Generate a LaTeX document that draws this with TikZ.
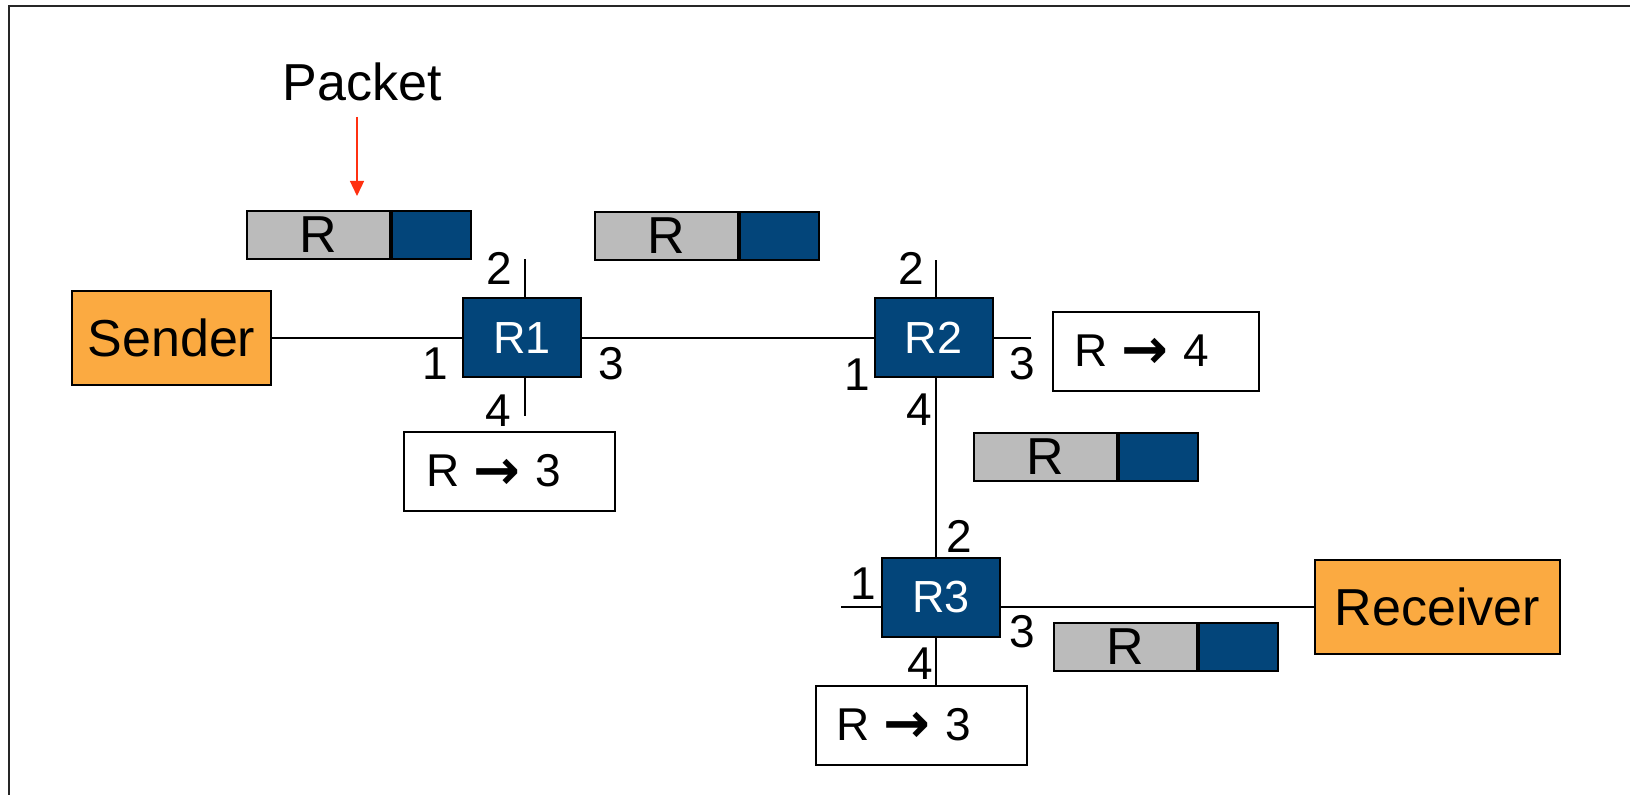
\documentclass[tikz,border=0pt]{standalone}
\usepackage{fontspec}
\setmainfont{Liberation Sans}
\newfontfamily\arrowfont{DejaVu Sans}
\usetikzlibrary{arrows.meta}
\definecolor{routerblue}{HTML}{03457A}
\definecolor{hostorange}{HTML}{FBAA41}
\definecolor{hdrgray}{HTML}{BBBBBB}
\definecolor{ptrred}{HTML}{FF3010}
\tikzset{
  wire/.style={line width=1pt, draw=black},
  host/.style={draw=black, line width=1pt, fill=hostorange, minimum width=99.5pt, minimum height=47pt, inner sep=0pt, font=\fontsize{26}{30}\selectfont},
  router/.style={draw=black, line width=1pt, fill=routerblue, text=white, minimum width=59pt, minimum height=39.5pt, inner sep=0pt, font=\fontsize{22.5}{26}\selectfont},
  rulebox/.style={draw=black, line width=1pt, fill=white, minimum width=105.5pt, minimum height=39.5pt, inner sep=0pt},
  ruletext/.style={anchor=west, inner sep=0pt, font=\fontsize{23}{26}\selectfont},
  hdr/.style={draw=black, line width=1pt, fill=hdrgray, minimum width=71.5pt, minimum height=24pt, inner sep=0pt, font=\fontsize{26}{30}\selectfont},
  payload/.style={draw=black, line width=1pt, fill=routerblue, minimum width=39.5pt, minimum height=24pt, inner sep=0pt, anchor=west},
  portnum/.style={inner sep=0pt, font=\fontsize{23}{26}\selectfont},
}
\newcommand{\pkthdr}{\raisebox{-1.5pt}{R}}
\newcommand{\fwd}[1]{R\hspace{0.3em}\raisebox{-1.2pt}{\fontsize{28}{30}\arrowfont\bfseries →}\hspace{0.32em}#1}
\begin{document}
\begin{tikzpicture}[x=0.5pt, y=-0.5pt]
\useasboundingbox (0,0) rectangle (1630,795);
\clip (0,0) rectangle (1630,795);
\fill[white] (0,0) rectangle (1630,795);
% page frame (only top and left edges fall inside the page)
\draw[line width=1pt, draw=black!85] (9,6) rectangle (1700,900);

% hosts and routers
\node[host] (sender) at (171.5,338) {Sender};
\node[host, minimum width=122.5pt] (receiver) at (1437.5,607) {Receiver};
\node[router] (r1) at (522,338) {R1};
\node[router] (r2) at (933.5,338) {R2};
\node[router] (r3) at (941,597.5) {R3};

% forwarding tables
\node[rulebox] (t1) at (509.5,472) {};
\node[ruletext] at ([xshift=11.5pt]t1.west) {\fwd{3}};
\node[rulebox, minimum width=103pt] (t2) at (1156,351.5) {};
\node[ruletext] at ([xshift=11pt]t2.west) {\fwd{4}};
\node[rulebox] (t3) at (921.5,725.5) {};
\node[ruletext] at ([xshift=10.5pt]t3.west) {\fwd{3}};

% packets: header + payload
\node[hdr] (h1) at (318,235) {\pkthdr};
\node[payload] (b1) at (h1.east) {};
\node[hdr] (h2) at (666.5,236) {\pkthdr};
\node[payload] (b2) at (h2.east) {};
\node[hdr] (h3) at (1045.5,457) {\pkthdr};
\node[payload] (b3) at (h3.east) {};
\node[hdr] (h4) at (1125,647) {\pkthdr};
\node[payload] (b4) at (h4.east) {};

% "Packet" pointer
\node[inner sep=0pt, font=\fontsize{26}{30}\selectfont] (pktlabel) at (362,82) {Packet};
\coordinate (ptrtop) at (357,117);
\coordinate (ptrtip) at (357,196);
\draw[line width=0.7pt, draw=ptrred, -{Triangle[width=7pt,length=7.5pt,fill=ptrred]}] (ptrtop) -- (ptrtip);

% links
\draw[wire] (sender.east) -- (r1.west);
\draw[wire] (r1.east) -- (r2.west);
\draw[wire] (r3.east |- receiver.west) -- (receiver.west);
\coordinate (r1x) at (525,0);
\coordinate (r2x) at (936,0);
\draw[wire] (r2.south -| r2x) -- (r3.north -| r2x);
\draw[wire] (r3.south -| r2x) -- (t3.north -| r2x);

% unused port stubs
\coordinate (r1p2) at (525,259);
\coordinate (r1p4) at (525,416);
\coordinate (r2p2) at (936,260);
\coordinate (r2p3) at (1031,338);
\coordinate (r3p1) at (841,607);
\draw[wire] (r1.north -| r1p2) -- (r1p2);
\draw[wire] (r1.south -| r1p4) -- (r1p4);
\draw[wire] (r2.north -| r2p2) -- (r2p2);
\draw[wire] (r2.east |- r2p3) -- (r2p3);
\draw[wire] (r3.west |- r3p1) -- (r3p1);

% port numbers
\node[portnum] (r1n1) at (435.5,363.5) {1};
\node[portnum] (r1n2) at (499.5,268.5) {2};
\node[portnum] (r1n3) at (611,363.5) {3};
\node[portnum] (r1n4) at (498.5,410.5) {4};
\node[portnum] (r2n1) at (857,375) {1};
\node[portnum] (r2n2) at (911,268.5) {2};
\node[portnum] (r2n3) at (1022,363.5) {3};
\node[portnum] (r2n4) at (919,410) {4};
\node[portnum] (r3n1) at (863.5,583.5) {1};
\node[portnum] (r3n2) at (959,536.5) {2};
\node[portnum] (r3n3) at (1022,631.5) {3};
\node[portnum] (r3n4) at (920,663.5) {4};
\end{tikzpicture}
\end{document}
